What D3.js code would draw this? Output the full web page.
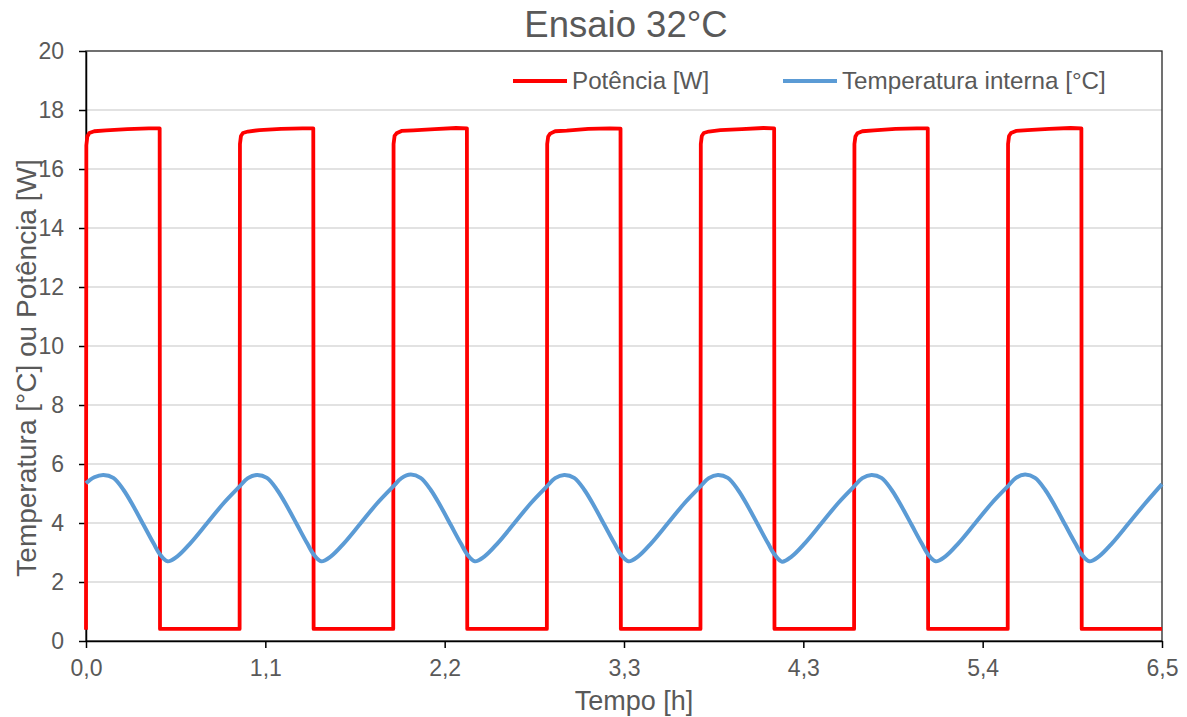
<!DOCTYPE html>
<html>
<head>
<meta charset="utf-8">
<script src="https://cdn.jsdelivr.net/npm/d3@7"></script>
<style>
  body { margin: 0; background: #fff; }
  text { font-family: "Liberation Sans", Arial, sans-serif; fill: #595959; }
</style>
</head>
<body>
<div id="chart"></div>
<script>
// chart values
const xTicks = [0, 1.0833, 2.1667, 3.25, 4.3333, 5.4167, 6.5];
const xTickLabels = ['0,0', '1,1', '2,2', '3,3', '4,3', '5,4', '6,5'];
const yTicks = [0, 2, 4, 6, 8, 10, 12, 14, 16, 18, 20];

const powerHours = [
  0.000, 0.002, 0.008, 0.020, 0.050, 0.120, 0.250, 0.380, 0.445, 0.447,
  0.928, 0.930, 0.936, 0.948, 0.978, 1.048, 1.178, 1.308, 1.373, 1.375,
  1.856, 1.858, 1.864, 1.876, 1.906, 1.976, 2.106, 2.236, 2.301, 2.303,
  2.784, 2.786, 2.792, 2.804, 2.834, 2.904, 3.034, 3.164, 3.229, 3.231,
  3.712, 3.714, 3.720, 3.732, 3.762, 3.832, 3.962, 4.092, 4.157, 4.159,
  4.640, 4.642, 4.648, 4.660, 4.690, 4.760, 4.890, 5.020, 5.085, 5.087,
  5.568, 5.570, 5.576, 5.588, 5.618, 5.688, 5.818, 5.948, 6.013, 6.015,
  6.500
];
const powerWatts = [
  0.38, 16.80, 17.10, 17.22, 17.28, 17.31, 17.35, 17.38, 17.38, 0.41,
  0.41, 16.85, 17.12, 17.22, 17.27, 17.32, 17.36, 17.38, 17.38, 0.41,
  0.41, 16.85, 17.12, 17.21, 17.29, 17.31, 17.35, 17.39, 17.38, 0.41,
  0.41, 16.85, 17.10, 17.20, 17.28, 17.30, 17.36, 17.38, 17.37, 0.41,
  0.41, 16.85, 17.12, 17.22, 17.27, 17.32, 17.35, 17.39, 17.38, 0.41,
  0.41, 16.85, 17.10, 17.21, 17.28, 17.31, 17.36, 17.38, 17.38, 0.41,
  0.41, 16.85, 17.12, 17.22, 17.29, 17.32, 17.36, 17.39, 17.38, 0.41,
  0.41
];

const tempHours = [
  0.000, 0.050, 0.105, 0.165, 0.227, 0.288, 0.348, 0.408, 0.449, 0.493, 0.550, 0.630, 0.731, 0.831,
  0.928, 0.978, 1.033, 1.093, 1.155, 1.216, 1.276, 1.336, 1.377, 1.421, 1.478, 1.558, 1.659, 1.759,
  1.856, 1.906, 1.961, 2.021, 2.083, 2.144, 2.204, 2.264, 2.305, 2.349, 2.406, 2.486, 2.587, 2.687,
  2.784, 2.834, 2.889, 2.949, 3.011, 3.072, 3.132, 3.192, 3.233, 3.277, 3.334, 3.414, 3.515, 3.615,
  3.712, 3.762, 3.817, 3.877, 3.939, 4.000, 4.060, 4.120, 4.161, 4.205, 4.262, 4.342, 4.443, 4.543,
  4.640, 4.690, 4.745, 4.805, 4.867, 4.928, 4.988, 5.048, 5.089, 5.133, 5.190, 5.270, 5.371, 5.471,
  5.568, 5.618, 5.673, 5.733, 5.795, 5.856, 5.916, 5.976, 6.017, 6.061, 6.118, 6.198, 6.299, 6.399,
  6.500
];
const tempCelsius = [
  5.35, 5.55, 5.63, 5.53, 5.12, 4.55, 3.93, 3.31, 2.92, 2.70, 2.86, 3.31, 3.99, 4.67,
  5.24, 5.52, 5.63, 5.53, 5.12, 4.55, 3.93, 3.31, 2.92, 2.70, 2.86, 3.31, 3.99, 4.67,
  5.24, 5.52, 5.64, 5.53, 5.12, 4.55, 3.93, 3.31, 2.92, 2.70, 2.86, 3.31, 3.99, 4.67,
  5.24, 5.52, 5.63, 5.53, 5.12, 4.55, 3.93, 3.31, 2.92, 2.70, 2.86, 3.31, 3.99, 4.67,
  5.24, 5.52, 5.63, 5.53, 5.12, 4.55, 3.93, 3.31, 2.92, 2.69, 2.86, 3.31, 3.99, 4.67,
  5.24, 5.52, 5.63, 5.53, 5.12, 4.55, 3.93, 3.31, 2.92, 2.70, 2.86, 3.31, 3.99, 4.67,
  5.24, 5.53, 5.64, 5.53, 5.12, 4.55, 3.93, 3.31, 2.92, 2.70, 2.86, 3.31, 3.99, 4.67,
  5.32
];

const series = [
  { name: 'Potência [W]', color: '#ff0000', width: 3.8, hours: powerHours, values: powerWatts, curve: d3.curveLinear },
  { name: 'Temperatura interna [°C]', color: '#5b9bd5', width: 4, hours: tempHours, values: tempCelsius, curve: d3.curveCatmullRom }
];

const W = 1187, H = 717;
const margin = { top: 51, right: 25, bottom: 76, left: 86 };

const svg = d3.select('#chart')
  .append('svg')
  .attr('width', W)
  .attr('height', H);

const x = d3.scaleLinear().domain([0, 6.5]).range([margin.left, W - margin.right]);
const y = d3.scaleLinear().domain([0, 20]).range([H - margin.bottom, margin.top]);

// gridlines
svg.append('g')
  .selectAll('line')
  .data(yTicks.filter(d => d > 0 && d < 20))
  .enter()
  .append('line')
  .attr('x1', x(0))
  .attr('x2', x(6.5))
  .attr('y1', d => y(d))
  .attr('y2', d => y(d))
  .attr('stroke', '#d9d9d9')
  .attr('stroke-width', 1.3);

// plot frame
svg.append('rect')
  .attr('x', x(0))
  .attr('y', y(20))
  .attr('width', x(6.5) - x(0))
  .attr('height', y(0) - y(20))
  .attr('fill', 'none')
  .attr('stroke', '#262626')
  .attr('stroke-width', 1.3);

// axes
const yAxis = svg.append('g')
  .attr('transform', `translate(${x(0)},0)`)
  .call(d3.axisLeft(y).tickValues(yTicks).tickSize(7).tickPadding(15).tickSizeOuter(0));

const xAxis = svg.append('g')
  .attr('transform', `translate(0,${y(0)})`)
  .call(d3.axisBottom(x).tickValues(xTicks).tickSize(7).tickPadding(12)
    .tickFormat((d, i) => xTickLabels[i]).tickSizeOuter(0));

[xAxis, yAxis].forEach(g => {
  g.select('.domain').attr('stroke', '#000').attr('stroke-width', 1.5);
  g.selectAll('.tick line').attr('stroke', '#000').attr('stroke-width', 1.5);
  g.selectAll('.tick text')
    .style('font-family', '"Liberation Sans", Arial, sans-serif')
    .style('font-size', '23px')
    .attr('fill', '#595959');
});

// series lines
series.forEach(s => {
  const line = d3.line()
    .x((d, i) => x(s.hours[i]))
    .y((d, i) => y(s.values[i]))
    .curve(s.curve);
  svg.append('path')
    .datum(s.values)
    .attr('fill', 'none')
    .attr('stroke', s.color)
    .attr('stroke-width', s.width)
    .attr('stroke-linejoin', 'round')
    .attr('d', line);
});

// title
svg.append('text')
  .attr('x', 626)
  .attr('y', 37)
  .attr('text-anchor', 'middle')
  .style('font-size', '36.5px')
  .text('Ensaio 32°C');

// axis titles
svg.append('text')
  .attr('x', 634)
  .attr('y', 710)
  .attr('text-anchor', 'middle')
  .style('font-size', '27px')
  .text('Tempo [h]');

svg.append('text')
  .attr('transform', 'translate(36,368) rotate(-90)')
  .attr('text-anchor', 'middle')
  .style('font-size', '28px')
  .text('Temperatura [°C] ou Potência [W]');

// legend
const legendX = [513, 783];
const legend = svg.append('g');
series.forEach((s, i) => {
  legend.append('line')
    .attr('x1', legendX[i])
    .attr('x2', legendX[i] + 54)
    .attr('y1', 81)
    .attr('y2', 81)
    .attr('stroke', s.color)
    .attr('stroke-width', 4);
  legend.append('text')
    .attr('x', legendX[i] + 59)
    .attr('y', 89)
    .style('font-size', '24.2px')
    .text(s.name);
});
</script>
</body>
</html>
